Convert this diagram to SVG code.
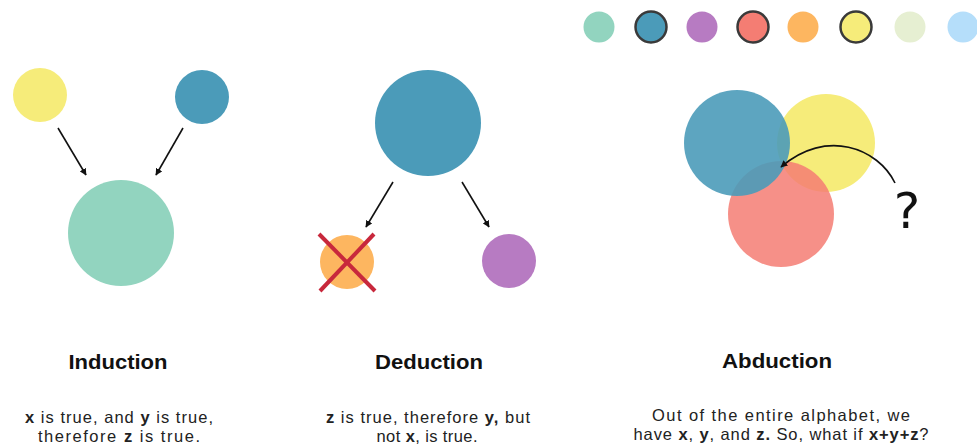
<svg xmlns="http://www.w3.org/2000/svg" width="977" height="448" viewBox="0 0 977 448">
<defs>
<style>
.title{font-family:"Liberation Sans",Arial,sans-serif;font-weight:bold;font-size:20px;fill:#111;text-anchor:middle}
.body{font-family:"Liberation Sans",Arial,sans-serif;font-size:16.5px;fill:#222;text-anchor:middle}
.body tspan.b{font-weight:bold}
.conn{stroke:#111;stroke-width:1.6;fill:none;marker-end:url(#ah)}
.ring{stroke:#3a3a3a;stroke-width:2.5}
</style>
<marker id="ah" viewBox="0 0 10 10" refX="9" refY="5" markerWidth="7" markerHeight="7" markerUnits="userSpaceOnUse" orient="auto">
<path d="M0,0 L10,5 L0,10 z" fill="#111"/>
</marker>
</defs>
<rect width="977" height="448" fill="#ffffff"/>

<g id="legend">
<circle cx="599" cy="27" r="15.5" fill="#92d4bf"/>
<circle cx="651" cy="27" r="15.5" fill="#4b9bb9" class="ring"/>
<circle cx="702" cy="27" r="15.5" fill="#b77bc2"/>
<circle cx="753" cy="27" r="15.5" fill="#f47d73" class="ring"/>
<circle cx="803" cy="27" r="15.5" fill="#fdb660"/>
<circle cx="856" cy="27" r="15.5" fill="#f6ec7a" class="ring"/>
<circle cx="910" cy="27" r="15.5" fill="#e6efd2"/>
<circle cx="963" cy="27" r="15.5" fill="#b5defa"/>
</g>

<g id="induction">
<circle id="ind-x" cx="40" cy="95" r="27" fill="#f6ec7a"/>
<circle id="ind-y" cx="202" cy="97" r="27" fill="#4b9bb9"/>
<circle id="ind-z" cx="121" cy="233" r="53" fill="#92d4bf"/>
<text class="title" x="118" y="369" textLength="99" lengthAdjust="spacingAndGlyphs">Induction</text>
<text class="body" x="119" y="423" textLength="188"><tspan class="b">x</tspan> is true, and <tspan class="b">y</tspan> is true,</text>
<text class="body" x="119" y="442" textLength="162"><tspan>therefore </tspan><tspan class="b">z</tspan><tspan> is true.</tspan></text>
</g>

<g id="deduction">
<circle id="ded-z" cx="428" cy="123" r="53" fill="#4b9bb9"/>
<circle id="ded-x" cx="347" cy="262" r="27" fill="#fdb660"/>
<g id="ded-cross" stroke="#c8283c" stroke-width="4" stroke-linecap="butt">
<line x1="319" y1="234" x2="375" y2="291"/>
<line x1="374" y1="234" x2="320" y2="291"/>
</g>
<circle id="ded-y" cx="509" cy="261" r="27" fill="#b77bc2"/>
<text class="title" x="429" y="369" textLength="108" lengthAdjust="spacingAndGlyphs">Deduction</text>
<text class="body" x="428" y="423" textLength="204"><tspan class="b">z</tspan> is true, therefore <tspan class="b">y,</tspan> but</text>
<text class="body" x="427" y="442" textLength="101">not <tspan class="b">x</tspan>, is true.</text>
</g>

<g id="abduction">
<circle id="abd-y" cx="826" cy="143" r="49" fill="#f6ec7a"/>
<circle id="abd-r" cx="781" cy="214" r="53" fill="#f47d73" fill-opacity="0.85"/>
<circle id="abd-b" cx="737" cy="143" r="53" fill="#4b9bb9" fill-opacity="0.9"/>
<text id="abd-q" x="907" y="228" font-family="'DejaVu Sans',sans-serif" font-size="50" fill="#111" text-anchor="middle">?</text>
<text class="title" x="777" y="368" textLength="110" lengthAdjust="spacingAndGlyphs">Abduction</text>
<text class="body" x="781" y="421" textLength="258">Out of the entire alphabet, we</text>
<text class="body" x="781" y="440" textLength="295">have <tspan class="b">x</tspan>, <tspan class="b">y</tspan>, and <tspan class="b">z.</tspan> So, what if <tspan class="b">x+y+z</tspan>?</text>
</g>

<g id="connectors">
<line class="conn" x1="58" y1="128" x2="86" y2="175"/>
<line class="conn" x1="183" y1="128" x2="156" y2="175"/>
<line class="conn" x1="393" y1="182" x2="366" y2="227"/>
<line class="conn" x1="462" y1="182" x2="489" y2="227"/>
<path class="conn" d="M895,183 C878,148 826,128 781,167"/>
</g>
</svg>
